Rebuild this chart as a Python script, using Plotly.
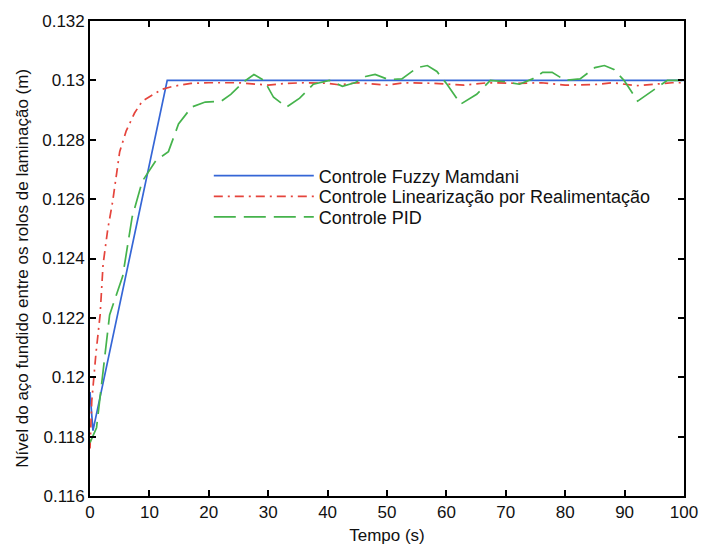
import plotly.graph_objects as go

# Controle Fuzzy Mamdani
t_fuzzy = [0.0, 0.5, 13.0, 100.0]
y_fuzzy = [0.1195, 0.1182, 0.1300, 0.1300]

# Controle Linearização por Realimentação
t_flr = [0.0, 0.3, 1.0, 1.7, 2.2, 3.0, 3.8, 5.0, 6.1, 7.5, 8.8, 10.5, 12.1, 14.0,
         17.0, 20.0, 25.0, 30.0, 33.0, 36.0, 40.0, 42.0, 45.0, 50.0, 53.0, 58.0,
         63.0, 67.0, 72.0, 76.0, 80.0, 85.0, 88.0, 92.0, 95.0, 98.0, 100.0]
y_flr = [0.1176, 0.1192, 0.1208, 0.1221, 0.1238, 0.1250, 0.1259, 0.1276, 0.1283,
         0.1289, 0.1293, 0.1295, 0.1297, 0.1298, 0.12990, 0.12992, 0.12992,
         0.12984, 0.12990, 0.12992, 0.12990, 0.12985, 0.12992, 0.12984, 0.12992,
         0.12990, 0.12984, 0.12992, 0.12990, 0.12992, 0.12984, 0.12986, 0.12992,
         0.12982, 0.12986, 0.12992, 0.12992]

# Controle PID
t_pid = [0.0, 1.1, 2.2, 3.3, 5.5, 7.1, 8.8, 11.1, 13.2, 14.9, 17.1, 19.4, 22.1,
         23.7, 26.0, 27.6, 29.3, 30.9, 33.1, 35.3, 37.6, 40.3, 42.5, 44.7, 46.4,
         48.0, 50.2, 52.5, 55.1, 56.8, 58.4, 60.1, 62.4, 65.1, 67.4, 70.0, 72.3,
         74.5, 76.2, 77.8, 80.0, 82.5, 85.0, 86.6, 88.2, 89.9, 92.2, 95.5, 97.2, 100.0]
y_pid = [0.1178, 0.1183, 0.1202, 0.1221, 0.1234, 0.1254, 0.1266, 0.1273, 0.1276,
         0.12853, 0.1291, 0.12927, 0.1293, 0.12953, 0.12997, 0.1302, 0.1300,
         0.12943, 0.1291, 0.1294, 0.12987, 0.1300, 0.1298, 0.12993, 0.13013,
         0.1302, 0.13003, 0.13005, 0.13043, 0.1305, 0.1303, 0.12987, 0.1292,
         0.12953, 0.1300, 0.12995, 0.12987, 0.13005, 0.13027, 0.13027, 0.1300,
         0.13005, 0.13043, 0.1305, 0.13037, 0.1300, 0.1293, 0.12977, 0.1300, 0.1300]

x_ticks = [0, 10, 20, 30, 40, 50, 60, 70, 80, 90, 100]
y_ticks = [0.116, 0.118, 0.12, 0.122, 0.124, 0.126, 0.128, 0.13, 0.132]
y_tick_text = ["0.116", "0.118", "0.12", "0.122", "0.124", "0.126", "0.128", "0.13", "0.132"]

FONT = "Liberation Sans, Arial, sans-serif"
INK = "#111111"

fig = go.Figure()
fig.add_trace(go.Scatter(
    x=t_fuzzy, y=y_fuzzy, mode="lines", name="Controle Fuzzy Mamdani",
    line=dict(color="#3566d6", width=1.7), legend="legend"))
fig.add_trace(go.Scatter(
    x=t_flr, y=y_flr, mode="lines", name="Controle Linearização por Realimentação",
    line=dict(color="#e5443c", width=1.7, dash="9px,5px,2px,5px"), legend="legend2"))
fig.add_trace(go.Scatter(
    x=t_pid, y=y_pid, mode="lines", name="Controle PID",
    line=dict(color="#45b34c", width=1.7, dash="22px,8px"), legend="legend3"))

axis_common = dict(
    showgrid=False, zeroline=False, showline=True, linecolor="black", linewidth=1.7,
    mirror="ticks", ticks="inside", ticklen=6, tickwidth=1.5, tickcolor="black",
    tickfont=dict(family=FONT, size=17, color=INK),
)

fig.update_xaxes(range=[0, 100], tickvals=x_ticks,
                 title=dict(text="Tempo (s)", font=dict(family=FONT, size=17, color=INK),
                            standoff=8),
                 **axis_common)
fig.update_yaxes(range=[0.116, 0.132], tickvals=y_ticks, ticktext=y_tick_text,
                 **axis_common)

# one legend box per entry, stacked with tight row spacing
def legend_box(y):
    return dict(x=0.2, y=y, xanchor="left", yanchor="middle",
                bgcolor="rgba(0,0,0,0)", borderwidth=0,
                font=dict(family=FONT, size=18, color=INK), itemwidth=100)

fig.update_layout(
    width=710, height=554,
    margin=dict(l=90, r=16, t=16, b=58),
    paper_bgcolor="white", plot_bgcolor="white",
    showlegend=True,
    legend=legend_box(0.674),
    legend2=legend_box(0.630),
    legend3=legend_box(0.587),
    annotations=[dict(
        text="Nível do aço fundido entre os rolos de laminação (m)",
        xref="paper", yref="paper", x=-0.115, y=0.48, xanchor="center", yanchor="middle",
        textangle=-90, showarrow=False, font=dict(family=FONT, size=17, color=INK))],
)

fig.write_html("out.html")
